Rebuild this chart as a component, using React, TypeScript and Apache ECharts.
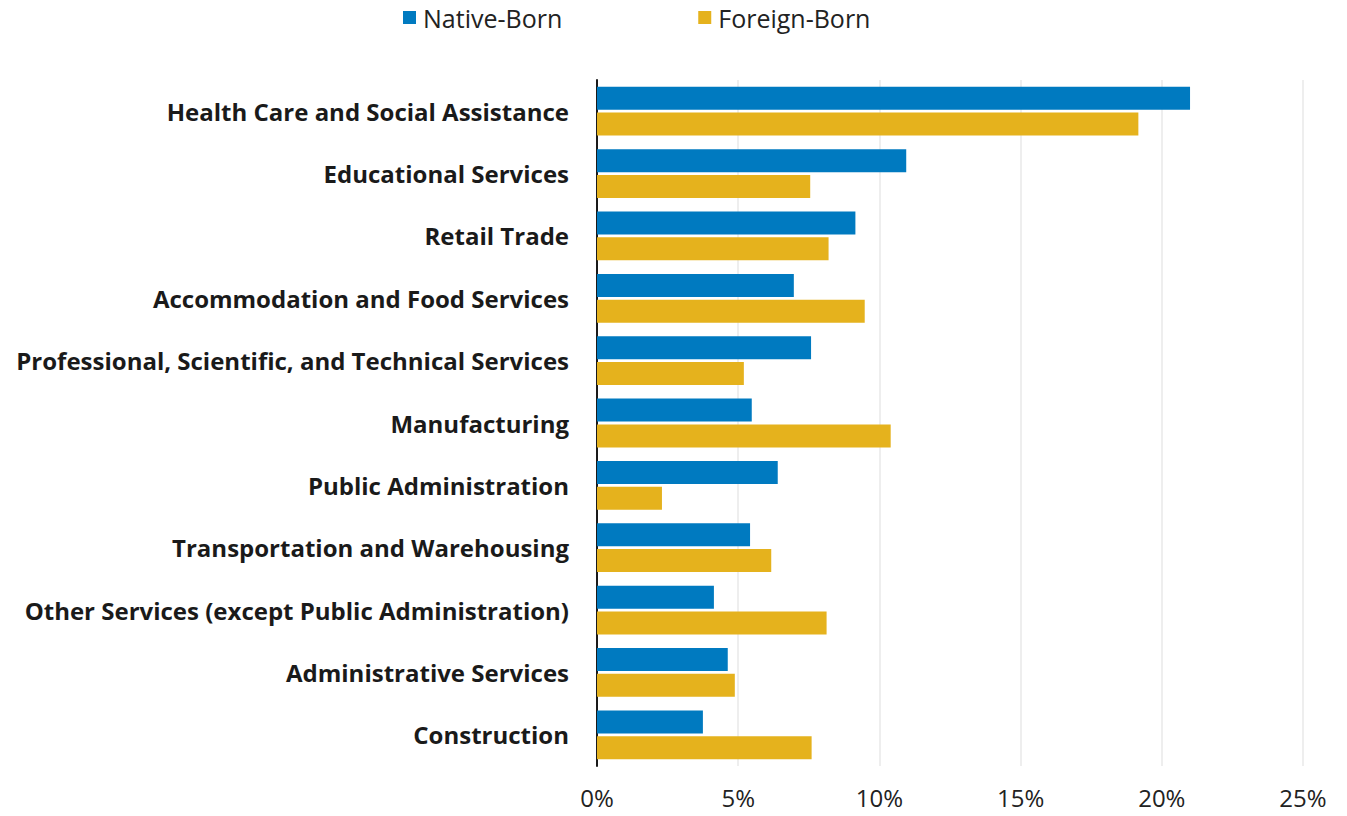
import React, { useEffect, useRef } from "react";
import * as echarts from "echarts";

const categories = [
  "Health Care and Social Assistance",
  "Educational Services",
  "Retail Trade",
  "Accommodation and Food Services",
  "Professional, Scientific, and Technical Services",
  "Manufacturing",
  "Public Administration",
  "Transportation and Warehousing",
  "Other Services (except Public Administration)",
  "Administrative Services",
  "Construction",
];

const nativeBorn = [21.0, 10.95, 9.15, 6.97, 7.58, 5.48, 6.4, 5.42, 4.14, 4.63, 3.75];
const foreignBorn = [19.17, 7.55, 8.2, 9.48, 5.2, 10.4, 2.3, 6.17, 8.13, 4.88, 7.6];

const xTicks = { min: 0, max: 25, interval: 5 };

const FONT = "'Open Sans', sans-serif";

export default function App() {
  const ref = useRef<HTMLDivElement>(null);
  useEffect(() => {
    if (!ref.current) return;
    const chart = echarts.init(ref.current, null, { renderer: "svg" });
    chart.setOption({
      animation: false,
      backgroundColor: "#ffffff",
      textStyle: { fontFamily: FONT },
      legend: {
        top: 0,
        left: 398,
        itemGap: 136,
        itemWidth: 13,
        itemHeight: 13,
        icon: "rect",
        textStyle: {
          fontSize: 25,
          color: "#222",
          fontFamily: FONT,
          padding: [0, 0, 0, 2],
        },
        data: ["Native-Born", "Foreign-Born"],
      },
      grid: { left: 597, right: 44, top: 80, bottom: 50, containLabel: false },
      xAxis: {
        type: "value",
        min: xTicks.min,
        max: xTicks.max,
        interval: xTicks.interval,
        axisLine: { show: false },
        axisTick: { show: false },
        axisLabel: {
          formatter: "{value}%",
          fontSize: 24,
          color: "#222",
          margin: 19,
          fontFamily: FONT,
        },
        splitLine: { show: true, lineStyle: { color: "#e8e8e8", width: 1.5 } },
      },
      yAxis: {
        type: "category",
        inverse: true,
        data: categories,
        axisLine: { show: true, lineStyle: { color: "#1a1a1a", width: 2 } },
        axisTick: { show: false },
        axisLabel: {
          fontSize: 24,
          fontWeight: "bold",
          color: "#1a1a1a",
          margin: 28,
          fontFamily: FONT,
        },
      },
      series: [
        {
          name: "Native-Born",
          type: "bar",
          data: nativeBorn,
          barWidth: 23,
          barGap: "12%",
          itemStyle: { color: "#007AC0" },
        },
        {
          name: "Foreign-Born",
          type: "bar",
          data: foreignBorn,
          barWidth: 23,
          barGap: "12%",
          itemStyle: { color: "#E5B21D" },
        },
      ],
    });
    return () => chart.dispose();
  }, []);
  return (
    <div
      ref={ref}
      style={{ position: "fixed", left: 0, top: 0, width: 1347, height: 816 }}
    />
  );
}
